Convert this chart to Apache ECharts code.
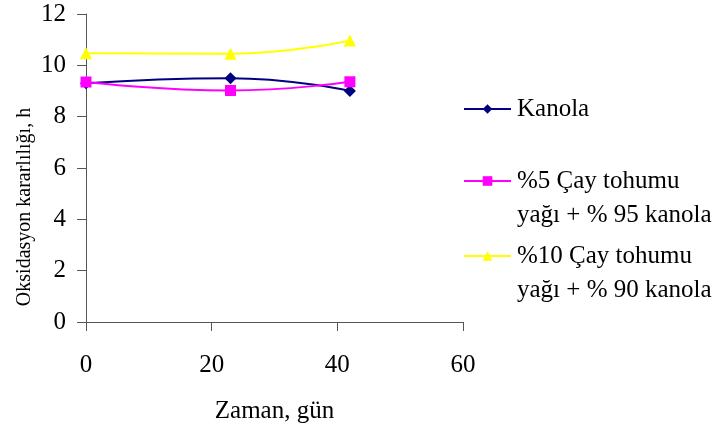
<!DOCTYPE html>
<html>
<head>
<meta charset="utf-8">
<script src="https://cdn.jsdelivr.net/npm/echarts@6/dist/echarts.min.js"></script>
<style>
  html, body { margin: 0; padding: 0; background: #fff; }
  #chart { width: 722px; height: 435px; }
</style>
</head>
<body>
<div id="chart"></div>
<script>
// Storage time (days) and oxidative stability (hours)
const days = [0, 23, 42];
const kanola = [9.3, 9.5, 9.0];
const cay5 = [9.35, 9.02, 9.36];
const cay10 = [10.47, 10.45, 10.97];
const xTicks = [0, 20, 40, 60];
const yTicks = [0, 2, 4, 6, 8, 10, 12];

const names = ['Kanola', '%5 Çay tohumu yağı + % 95 kanola', '%10 Çay tohumu yağı + % 90 kanola'];
const legendLines = {
  [names[0]]: 'Kanola',
  [names[1]]: '\n%5 Çay tohumu\nyağı + % 95 kanola',
  [names[2]]: '\n%10 Çay tohumu\nyağı + % 90 kanola'
};

const font = '"Liberation Serif", "Times New Roman", serif';
const axisColor = '#555';

function pairs(vals) { return days.map((d, i) => [d, vals[i]]); }

function legendFor(name, top) {
  return {
    data: [name],
    left: 463,
    top: top,
    orient: 'vertical',
    itemWidth: 47,
    itemHeight: 12,
    itemGap: 0,
    padding: 0,
    formatter: n => legendLines[n],
    textStyle: { fontFamily: font, fontSize: 25, color: '#000', lineHeight: 34, padding: [0, 0, 0, 1] },
    selectedMode: false
  };
}

const chart = echarts.init(document.getElementById('chart'), null, { renderer: 'canvas' });
chart.setOption({
  animation: false,
  backgroundColor: '#fff',
  grid: { left: 86, right: 259, top: 14, bottom: 113, containLabel: false },
  xAxis: {
    type: 'value',
    min: xTicks[0], max: xTicks[xTicks.length - 1], interval: 20,
    name: 'Zaman, gün', nameLocation: 'middle', nameGap: 77,
    nameTextStyle: { fontFamily: font, fontSize: 25, color: '#000' },
    axisLine: { show: true, lineStyle: { color: axisColor, width: 1 } },
    axisTick: { show: true, inside: false, length: 9, lineStyle: { color: axisColor } },
    axisLabel: { fontFamily: font, fontSize: 25, color: '#000', margin: 31 },
    splitLine: { show: false }
  },
  yAxis: {
    type: 'value',
    min: yTicks[0], max: yTicks[yTicks.length - 1], interval: 2,
    axisLine: { show: true, lineStyle: { color: axisColor, width: 1 } },
    axisTick: { show: true, inside: false, length: 9, lineStyle: { color: axisColor } },
    axisLabel: { fontFamily: font, fontSize: 25, color: '#000', margin: 20 },
    splitLine: { show: false }
  },
  graphic: [{
    type: 'text',
    x: 25, y: 207,
    rotation: Math.PI / 2,
    style: {
      text: 'Oksidasyon kararlılığı, h',
      font: '20px ' + font,
      fill: '#000',
      align: 'center',
      verticalAlign: 'middle'
    }
  }],
  legend: [legendFor(names[0], 92), legendFor(names[1], 130), legendFor(names[2], 205)],
  series: [
    {
      name: names[0], type: 'line', smooth: 0.5, data: pairs(kanola),
      symbol: 'diamond', symbolSize: 12,
      lineStyle: { color: '#000080', width: 2 },
      itemStyle: { color: '#000080' }, z: 2
    },
    {
      name: names[1], type: 'line', smooth: 0.5, data: pairs(cay5),
      symbol: 'rect', symbolSize: 11,
      lineStyle: { color: '#ff00ff', width: 2 },
      itemStyle: { color: '#ff00ff' }, z: 3
    },
    {
      name: names[2], type: 'line', smooth: 0.5, data: pairs(cay10),
      symbol: 'triangle', symbolSize: 12,
      lineStyle: { color: '#ffff00', width: 2 },
      itemStyle: { color: '#ffff00' }, z: 4
    }
  ]
});
</script>
</body>
</html>
